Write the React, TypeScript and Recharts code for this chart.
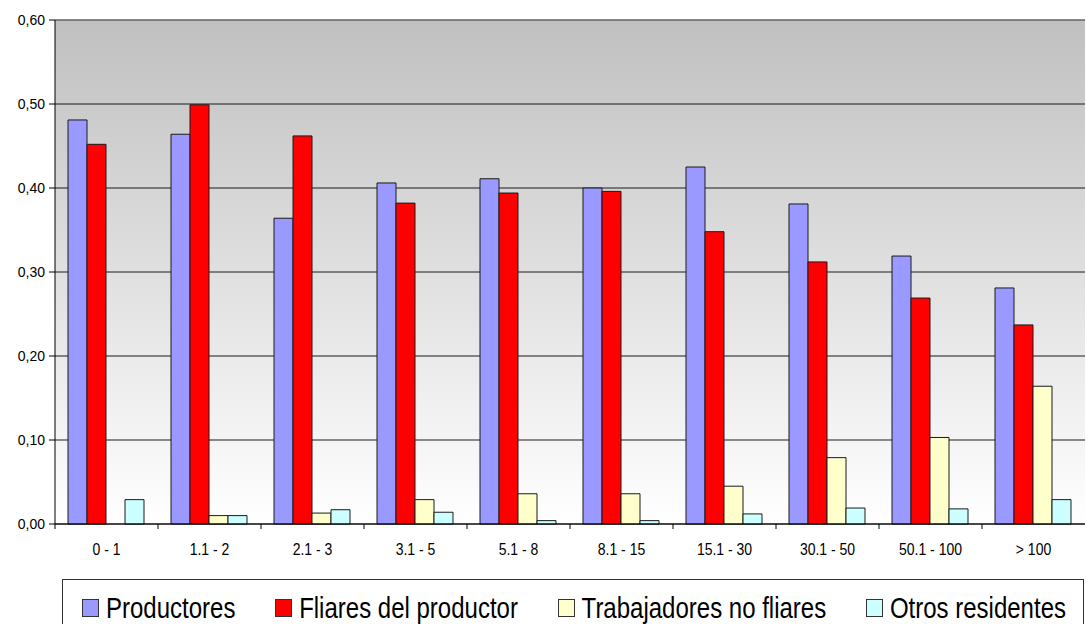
import React from 'react';
import {
  BarChart,
  Bar,
  XAxis,
  YAxis,
  CartesianGrid,
  ReferenceLine,
} from 'recharts';

// categorías (ha)
const categories = ['0 - 1', '1.1 - 2', '2.1 - 3', '3.1 - 5', '5.1 - 8', '8.1 - 15', '15.1 - 30', '30.1 - 50', '50.1 - 100', '> 100'];

const productores = [0.481, 0.464, 0.364, 0.406, 0.411, 0.400, 0.425, 0.381, 0.319, 0.281];
const fliares = [0.452, 0.499, 0.462, 0.382, 0.394, 0.396, 0.348, 0.312, 0.269, 0.237];
const trabajadores = [0, 0.010, 0.013, 0.029, 0.036, 0.036, 0.045, 0.079, 0.103, 0.164];
const otros = [0.029, 0.010, 0.017, 0.014, 0.004, 0.004, 0.012, 0.019, 0.018, 0.029];

const yTicks = [0, 0.1, 0.2, 0.3, 0.4, 0.5, 0.6];

const series = [
  { key: 'productores', name: 'Productores', color: '#9999FF' },
  { key: 'fliares', name: 'Fliares del productor', color: '#FF0000' },
  { key: 'trabajadores', name: 'Trabajadores no fliares', color: '#FFFFCC' },
  { key: 'otros', name: 'Otros residentes', color: '#CCFFFF' },
];

const data = categories.map((c, i) => ({
  name: c,
  productores: productores[i],
  fliares: fliares[i],
  trabajadores: trabajadores[i],
  otros: otros[i],
}));

const FONT = '"Liberation Sans", Arial, sans-serif';

// etiqueta del eje X + marca de división entre categorías
const XTick = (props: any) => {
  const { x, y, payload } = props;
  const left = x - (payload.offset || 0);
  return (
    <g>
      <line x1={left} y1={y - 5} x2={left} y2={y} stroke="#000" />
      <text
        transform={`translate(${x},${y + 26}) scale(1,1.15)`}
        textAnchor="middle"
        fontSize={14}
        fontFamily={FONT}
        fill="#000"
      >
        {payload.value}
      </text>
    </g>
  );
};

export default function App() {
  return (
    <div style={{ position: 'absolute', left: 0, top: 0, width: 1086, height: 624, background: '#fff', overflow: 'hidden' }}>
      <BarChart
        width={1086}
        height={624}
        data={data}
        margin={{ top: 20, right: 1, left: 0, bottom: 70 }}
        barCategoryGap={13}
        barGap={0}
      >
        <defs>
          <linearGradient id="plotBg" x1="0" y1="0" x2="0" y2="1">
            <stop offset="0%" stopColor="#C0C0C0" />
            <stop offset="100%" stopColor="#FFFFFF" />
          </linearGradient>
        </defs>
        <CartesianGrid vertical={false} stroke="#1a1a1a" fill="url(#plotBg)" fillOpacity={1} />
        <ReferenceLine y={0.6} stroke="#888" />
        <XAxis
          dataKey="name"
          height={30}
          axisLine={{ stroke: '#000' }}
          tickLine={false}
          tickSize={5}
          tickMargin={0}
          interval={0}
          tick={<XTick />}
        />
        <YAxis
          width={55}
          domain={[0, 0.6]}
          ticks={yTicks}
          interval={0}
          axisLine={{ stroke: '#000' }}
          tickLine={{ stroke: '#000' }}
          tickSize={6}
          tickMargin={4}
          tick={{ fontSize: 14, fontFamily: FONT, fill: '#000' }}
          tickFormatter={(v: number) => v.toFixed(2).replace('.', ',')}
        />
        {series.map((s) => (
          <Bar
            key={s.key}
            dataKey={s.key}
            name={s.name}
            fill={s.color}
            stroke="#1a1a1a"
            strokeWidth={1}
            isAnimationActive={false}
          />
        ))}
      </BarChart>

      {/* leyenda */}
      <div
        style={{
          position: 'absolute',
          left: 62,
          top: 579,
          width: 1022,
          height: 58,
          boxSizing: 'border-box',
          border: '1px solid #333',
          background: '#fff',
          display: 'flex',
          justifyContent: 'space-between',
          alignItems: 'center',
          padding: '0 17px 0 19px',
          fontFamily: FONT,
          fontSize: 24,
          color: '#000',
        }}
      >
        {series.map((s) => (
          <div key={s.key} style={{ display: 'flex', alignItems: 'center', whiteSpace: 'nowrap' }}>
            <span
              style={{
                display: 'inline-block',
                width: 15,
                height: 16,
                background: s.color,
                border: '1px solid #333',
                marginRight: 7,
              }}
            />
            <span style={{ display: 'inline-block', transform: 'scaleY(1.2)' }}>{s.name}</span>
          </div>
        ))}
      </div>
    </div>
  );
}
